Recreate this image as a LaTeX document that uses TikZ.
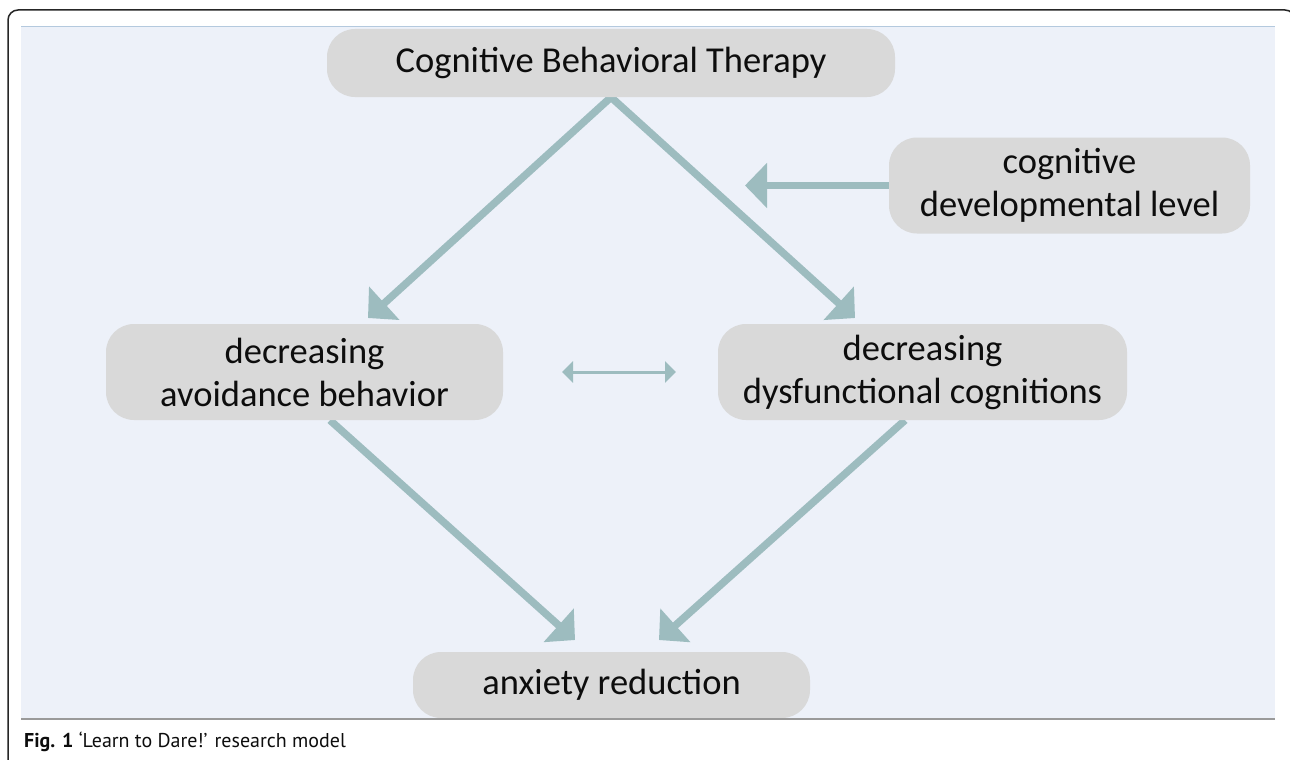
\documentclass[tikz,border=0pt]{standalone}
\usepackage{fontspec}
\setmainfont{Carlito}
\newfontfamily\capfont{PT Sans}
\usetikzlibrary{arrows.meta}
\definecolor{panelbg}{HTML}{EDF1F9}
\definecolor{boxgray}{HTML}{D9D9D9}
\definecolor{arrowcol}{HTML}{9DBCBF}
\definecolor{paneltop}{HTML}{B4C9DE}
\definecolor{panelbot}{HTML}{9A9A9A}
\definecolor{inktext}{HTML}{0D0D0D}
\pgfdeclarelayer{panel}
\pgfdeclarelayer{links}
\pgfsetlayers{panel,links,main}
\begin{document}
\begin{tikzpicture}[x=1pt,y=-1pt,
  box/.style={fill=boxgray, rounded corners=28pt, align=center, inner sep=0pt,
    font=\fontsize{36.5}{43}\selectfont, text=inktext},
  flow/.style={draw=arrowcol, line width=7.5pt, -{Triangle[length=22pt,width=44pt]}},
  link/.style={draw=arrowcol, line width=3pt,
    {Triangle[length=11pt,width=21pt]}-{Triangle[length=11pt,width=21pt]}}]
\useasboundingbox (0,0) rectangle (1290,760);
\begin{pgfonlayer}{panel}
  \fill[white] (0,0) rectangle (1290,760);
  \fill[panelbg] (21,26) rectangle (1275,719);
  \draw[paneltop, line width=1.5pt] (21,26.5) -- (1275,26.5);
  \draw[black!85, line width=1.5pt, rounded corners=10pt] (8,775) -- (8,10) -- (1295,10) -- (1295,775);
\end{pgfonlayer}

% nodes
\node[box, minimum width=568pt, minimum height=68pt] (cbt) at (611,63) {Cognitive Behavioral Therapy};
\node[box, minimum width=361pt, minimum height=96pt] (cdl) at (1069.5,185.5) {cognitive\\developmental level};
\node[box, minimum width=397pt, minimum height=96pt] (dab) at (304.5,372) {decreasing\\avoidance behavior};
\node[box, minimum width=409pt, minimum height=96pt] (ddc) at (922.5,372) {decreasing\\dysfunctional cognitions};
\node[box, minimum width=397pt, minimum height=66pt] (ar) at (611.5,685) {anxiety reduction};

% caption
\node[anchor=west, inner sep=0pt, text=inktext, font=\capfont\fontsize{20}{23}\selectfont] (cap) at (24,742)
  {\textbf{Fig. 1} ‘Learn to Dare!’ research model};

% free ends of connectors
\coordinate (t1) at (368,318);
\coordinate (t2) at (855,318);
\coordinate (t3) at (745,185.5);
\coordinate (l1) at (562,372);
\coordinate (l2) at (676,372);
\coordinate (s4) at ([xshift=25.5pt]dab.south);
\coordinate (t4) at (575,640);
\coordinate (s5) at ([xshift=-17.5pt]ddc.south);
\coordinate (t5) at (659,640);

\begin{pgfonlayer}{links}
  \draw[flow] (cbt.south) -- (t1);
  \draw[flow] (cbt.south) -- (t2);
  \draw[flow] (cdl.west) -- (t3);
  \draw[link] (l1) -- (l2);
  \draw[flow] (s4) -- (t4);
  \draw[flow] (s5) -- (t5);
\end{pgfonlayer}

\draw[panelbot, line width=2pt] (21,719) -- (1275,719);
\end{tikzpicture}
\end{document}
